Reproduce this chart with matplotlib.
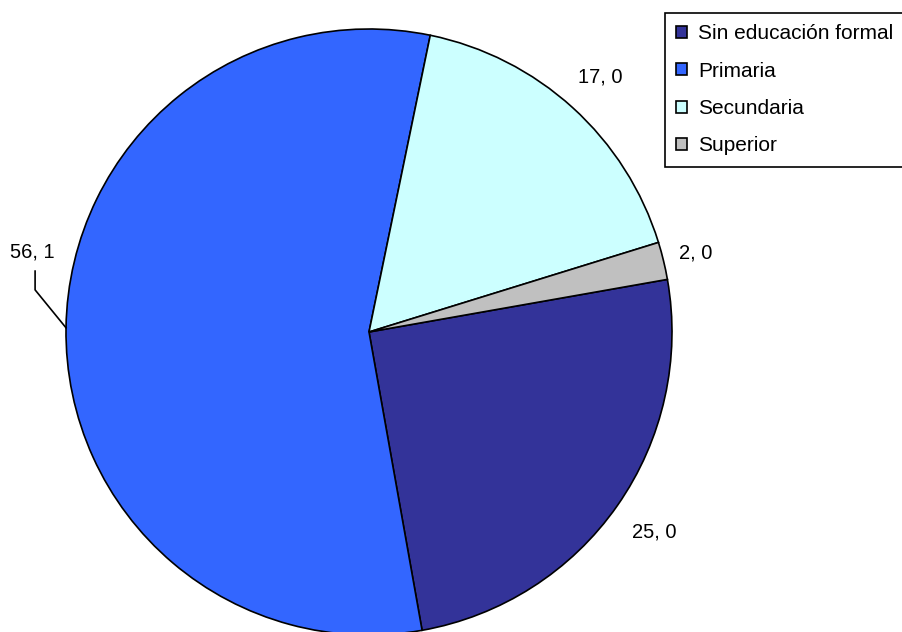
import numpy as np
import matplotlib
matplotlib.use("Agg")
from matplotlib import pyplot as plt

plt.rcParams['font.family'] = ['Liberation Sans', 'DejaVu Sans']

categorias = ["Sin educación formal", "Primaria", "Secundaria", "Superior"]
valores = [25.0, 56.1, 17.0, 2.0]
colores = ["#333399", "#3366FF", "#CCFFFF", "#C0C0C0"]
etiquetas = [f"{v:.1f}".replace(".", ", ") for v in valores]

W, H = 903, 632
fig = plt.figure(figsize=(W / 100, H / 100), dpi=100)
cx, cy, r = 369, 332, 303
ax = fig.add_axes([(cx - r) / W, (H - cy - r) / H, 2 * r / W, 2 * r / H])

wedges, _ = ax.pie(valores, colors=colores, startangle=10, counterclock=False,
                   wedgeprops=dict(edgecolor="black", linewidth=1.2))
ax.set_xlim(-1, 1)
ax.set_ylim(-1, 1)

# etiquetas de datos
fs = 14.5
dist = {0: 1.15, 2: 1.135, 3: 1.11}
for i, w in enumerate(wedges):
    ang = np.deg2rad((w.theta1 + w.theta2) / 2)
    if i == 1:
        # Primaria: etiqueta desplazada con línea guía
        x0, y0 = np.cos(ang), np.sin(ang)
        ax.plot([x0, -1.102, -1.102], [y0, 0.139, 0.201], color="black",
                linewidth=1.2, clip_on=False)
        ax.text(-1.111, 0.264, etiquetas[i], ha="center", va="center", fontsize=fs)
        continue
    d = dist[i]
    ax.text(d * np.cos(ang), d * np.sin(ang), etiquetas[i], ha="center",
            va="center", fontsize=fs)

leg = fig.legend(wedges, categorias, loc="upper left",
                 bbox_to_anchor=(665 / W, 1 - 13 / H), fontsize=15,
                 handlelength=0.5, handleheight=0.5, handletextpad=0.55,
                 labelspacing=0.88, borderpad=0.55, borderaxespad=0,
                 fancybox=False, edgecolor="black", framealpha=1)
leg.get_frame().set_linewidth(1.2)
for h in leg.legend_handles:
    h.set_linewidth(1.2)
    h.set_edgecolor("black")

fig.savefig("out.png", dpi=100)
